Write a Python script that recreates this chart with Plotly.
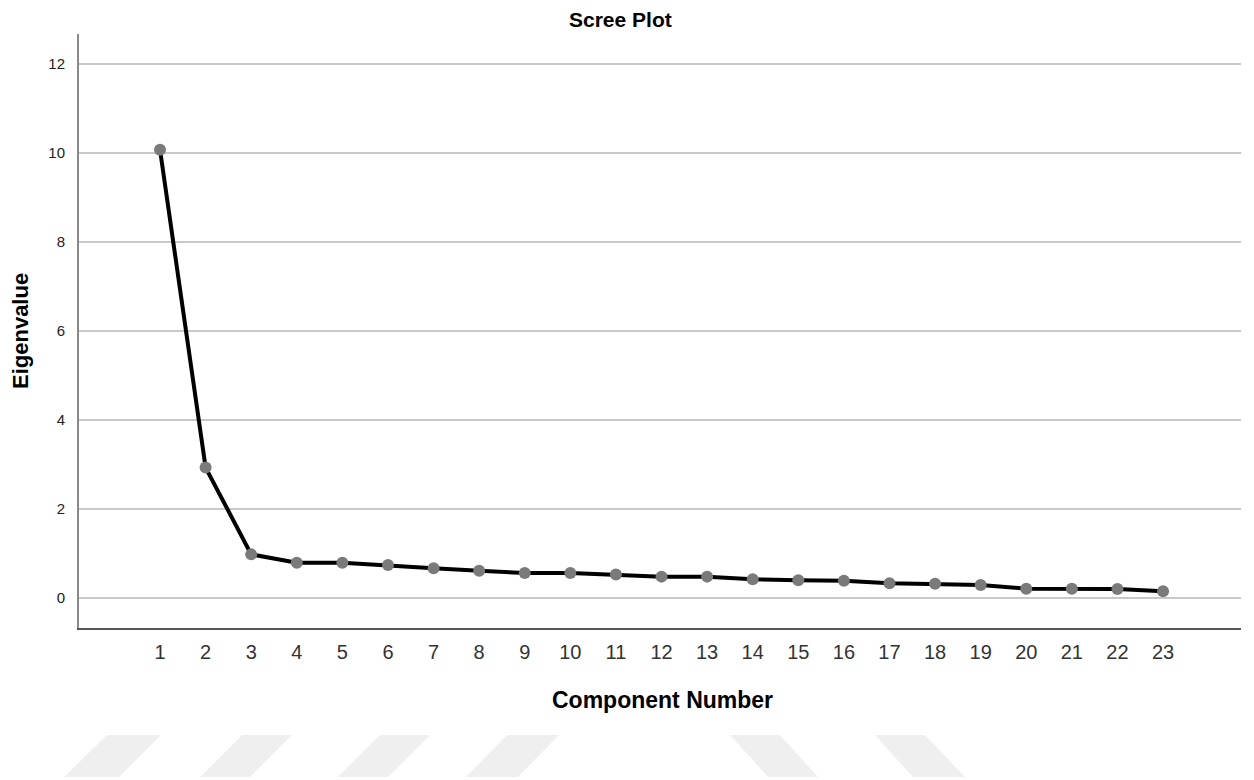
import plotly.graph_objects as go

components = list(range(1, 24))
eigenvalues = [10.07, 2.93, 0.98, 0.79, 0.79, 0.74, 0.67, 0.61, 0.56, 0.56,
               0.53, 0.48, 0.48, 0.42, 0.40, 0.39, 0.33, 0.32, 0.29, 0.21,
               0.21, 0.20, 0.15]
y_ticks = [0, 2, 4, 6, 8, 10, 12]

O = 8  # page body margin offset
W, H = 1254 - O, 780 - O
L, R, T, B = 79 - O, 13, 34 - O, 152
PW, PH = W - L - R, H - T - B


def px(x):
    return (x - O - L) / PW


def py(y):
    return (O + H - B - y) / PH


# light watermark stripes below the chart (pixel outlines: top-left, top-right, bottom-right, bottom-left)
stripes = [
    (107, 161, 119, 64), (242, 292, 250, 200), (380, 430, 388, 338), (507, 559, 518, 466),
    (730, 780, 818, 768), (875, 925, 965, 913),
]
shapes = []
for tl, tr, br, bl in stripes:
    path = (f"M {px(tl)} {py(735)} L {px(tr)} {py(735)} "
            f"L {px(br)} {py(777)} L {px(bl)} {py(777)} Z")
    shapes.append(dict(type="path", xref="paper", yref="paper", path=path,
                       fillcolor="#efefef", line=dict(width=0), layer="below"))

fig = go.Figure()
fig.add_trace(go.Scatter(
    x=components, y=eigenvalues, mode="lines+markers",
    line=dict(color="black", width=4),
    marker=dict(color="#7a7a7a", size=12),
    showlegend=False, cliponaxis=False,
))

sans = "Liberation Sans, Arial, sans-serif"

fig.update_layout(
    width=W, height=H,
    margin=dict(l=L, r=R, t=T, b=B),
    paper_bgcolor="white", plot_bgcolor="white",
    shapes=shapes,
    xaxis=dict(
        range=[-0.777, 24.71], tickmode="array", tickvals=components,
        ticktext=[str(c) for c in components],
        showgrid=False, zeroline=False, showline=True, linecolor="#555555", linewidth=1.5,
        ticks="", tickfont=dict(family=sans, size=20, color="#333333"),
        ticklabelstandoff=5,
    ),
    yaxis=dict(
        range=[-0.674, 12.67], tickmode="array", tickvals=y_ticks,
        showgrid=True, gridcolor="#c8c8c8", gridwidth=1.5, zeroline=False,
        showline=True, linecolor="#8a8a8a", linewidth=2,
        ticks="", tickfont=dict(family=sans, size=15, color="#222222"),
        ticklabelstandoff=9,
    ),
    annotations=[
        dict(text="<b>Scree Plot</b>", xref="paper", yref="paper", x=px(620), y=py(20),
             xanchor="center", yanchor="middle", showarrow=False,
             font=dict(family=sans, size=21, color="black")),
        dict(text="<b>Component Number</b>", xref="paper", yref="paper", x=px(662), y=py(700),
             xanchor="center", yanchor="middle", showarrow=False,
             font=dict(family=sans, size=23, color="black")),
        dict(text="<b>Eigenvalue</b>", xref="paper", yref="paper", x=px(20), y=py(331),
             xanchor="center", yanchor="middle", showarrow=False, textangle=-90,
             font=dict(family=sans, size=22, color="black")),
    ],
)

fig.write_html("out.html")
